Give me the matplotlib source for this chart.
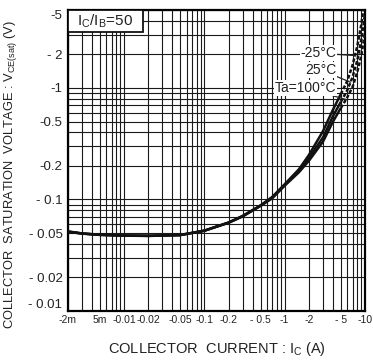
import numpy as np
import matplotlib.pyplot as plt
from matplotlib.patches import Rectangle
from matplotlib.ticker import LogLocator, NullFormatter, FixedLocator, FixedFormatter

# collector current (A) and saturation voltage magnitude (V), Ic/Ib = 50
ic = [0.002, 0.003, 0.005, 0.01, 0.02, 0.05, 0.1, 0.2, 0.3, 0.5, 0.7,
      1.0, 1.5, 2.0, 3.0, 4.0, 5.0, 6.0, 7.0, 8.0, 9.0, 10.0]
vce_m25 = [0.0517, 0.0496, 0.0483, 0.0475, 0.0472, 0.0480, 0.0526, 0.0622, 0.0712, 0.0885, 0.1055,
           0.137, 0.186, 0.25, 0.41, 0.64, 0.88, 1.15, 1.6, 2.35, 3.7, 6.5]
vce_25 = [0.0515, 0.0495, 0.0482, 0.0475, 0.0472, 0.0480, 0.0525, 0.062, 0.071, 0.088, 0.104,
          0.135, 0.18, 0.235, 0.36, 0.56, 0.75, 0.95, 1.25, 1.75, 2.7, 4.6]
vce_100 = [0.0513, 0.0494, 0.0481, 0.0474, 0.0471, 0.0479, 0.0524, 0.0618, 0.0705, 0.0875, 0.1025,
           0.133, 0.175, 0.222, 0.33, 0.50, 0.66, 0.82, 1.02, 1.38, 1.95, 3.1]
curve_labels = ["-25°C", "25°C", "Ta=100°C"]
label_ic = [7.5, 6.6, 5.8]     # where each leader line meets its curve

x_ticks = [0.002, 0.005, 0.01, 0.02, 0.05, 0.1, 0.2, 0.5, 1, 2, 5, 10]
x_ticklabels = ["-2m", "5m", "-0.01", "-0.02", "-0.05", "-0.1", "-0.2", "- 0.5",
                "-1", "-2", "- 5", "-10"]
y_ticks = [5, 2, 1, 0.5, 0.2, 0.1, 0.05, 0.02, 0.01]
y_ticklabels = ["-5", "- 2", "-1", "-0.5", "-0.2", "- 0.1", "- 0.05", "- 0.02", "- 0.01"]

plt.rcParams['font.family'] = ['Liberation Sans', 'DejaVu Sans']
tick_font = ['Liberation Sans Narrow', 'Liberation Sans', 'DejaVu Sans']

fig = plt.figure(figsize=(3.73, 3.64), dpi=100)
ax = fig.add_axes([0.1823, 0.1456, 0.7962, 0.827])
ax.set_xscale('log')
ax.set_yscale('log')
ax.set_xlim(0.002, 10)
ax.set_ylim(0.01, 5)

# full log grid, every 1..9 line in each decade
ax.xaxis.set_minor_locator(LogLocator(base=10, subs=np.arange(2, 10)))
ax.yaxis.set_minor_locator(LogLocator(base=10, subs=np.arange(2, 10)))
ax.xaxis.set_minor_formatter(NullFormatter())
ax.yaxis.set_minor_formatter(NullFormatter())
ax.xaxis.set_major_locator(FixedLocator(x_ticks))
ax.xaxis.set_major_formatter(FixedFormatter(x_ticklabels))
ax.yaxis.set_major_locator(FixedLocator(y_ticks))
ax.yaxis.set_major_formatter(FixedFormatter(y_ticklabels))
ax.grid(True, which='both', color='#1a1a1a', lw=0.8)
ax.tick_params(which='both', length=0)
ax.tick_params(axis='x', pad=3, labelsize=7.5)
ax.tick_params(axis='y', pad=4, labelsize=9.5)
for lab in ax.get_xticklabels() + ax.get_yticklabels():
    lab.set_family(tick_font)
    lab.set_color('#222222')
ax.get_yticklabels()[-1].set_va('bottom')
ax.get_yticklabels()[0].set_va('top')
for sp in ax.spines.values():
    sp.set_linewidth(1.6)

# solid below ~0.75 V, dashed above
split = ic.index(5.0)
for v in (vce_m25, vce_25, vce_100):
    ax.plot(ic[:split + 1], v[:split + 1], color='#111111', lw=1.8, solid_capstyle='butt', zorder=3)
    ax.plot(ic[split:], v[split:], color='#111111', lw=1.8, ls=(0, (1.5, 0.8)), zorder=3)

text_y = [2.05, 1.45, 1.0]
for name, v, xi, ty in zip(curve_labels, (vce_m25, vce_25, vce_100), label_ic, text_y):
    yi = np.exp(np.interp(np.log(xi), np.log(ic), np.log(v)))
    ax.annotate(name, xy=(xi, yi), xytext=(4.4, ty), ha='right', va='center',
                fontsize=10, color='#222222',
                bbox=dict(boxstyle='square,pad=0.05', fc='white', ec='none'),
                arrowprops=dict(arrowstyle='-', color='#222222', lw=0.9,
                                shrinkA=0, shrinkB=0), zorder=4)

# condition box in the top-left corner
ax.add_patch(Rectangle((0.0, 0.927), 0.252, 0.073, transform=ax.transAxes,
                       fc='white', ec='#111111', lw=1.3, zorder=5))
ax.text(0.126, 0.962, r'I$_\mathregular{C}$/I$_\mathregular{B}$=50', transform=ax.transAxes,
        ha='center', va='center', fontsize=11, color='#222222', zorder=6)

ax.set_xlabel(r'COLLECTOR  CURRENT : I$_\mathregular{C}$ (A)', fontsize=10.5,
              color='#222222', labelpad=11)
ax.set_ylabel(r'COLLECTOR  SATURATION  VOLTAGE : V$_\mathregular{CE(sat)}$ (V)',
              fontsize=9.3, color='#222222')
ax.yaxis.set_label_coords(-0.165, 0.455)

fig.savefig('out.png', dpi=100)
